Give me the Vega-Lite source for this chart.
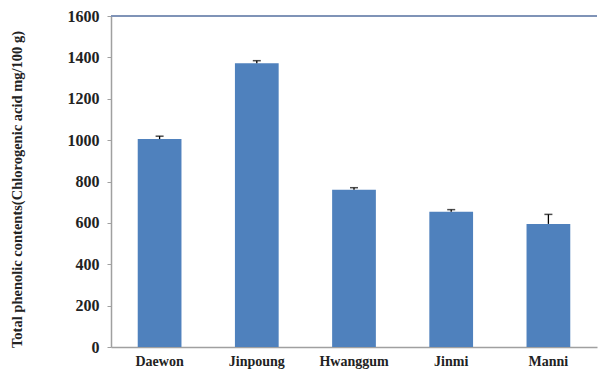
{
  "$schema": "https://vega.github.io/schema/vega-lite/v6.json",
  "autosize": "none",
  "width": 486,
  "height": 331,
  "padding": {"left": 111, "top": 16, "right": 1, "bottom": 28},
  "background": "white",
  "config": {"view": {"stroke": null}},
  "data": {"values": [
    {"cultivar": "Daewon", "value": 1005, "hi": 1019},
    {"cultivar": "Jinpoung", "value": 1371, "hi": 1384},
    {"cultivar": "Hwanggum", "value": 760, "hi": 770},
    {"cultivar": "Jinmi", "value": 654, "hi": 664},
    {"cultivar": "Manni", "value": 595, "hi": 641}
  ]},
  "layer": [
    {
      "mark": {"type": "bar", "color": "#4f81bd"},
      "encoding": {
        "x": {
          "field": "cultivar", "type": "nominal", "sort": null,
          "scale": {"paddingInner": 0.55, "paddingOuter": 0.275},
          "axis": {
            "title": null, "labelAngle": 0, "ticks": false,
            "domainColor": "#a0a0a0", "domainWidth": 1.5,
            "labelFont": "Liberation Serif, Times New Roman, serif", "labelFontWeight": "bold",
            "labelFontSize": 14, "labelColor": "#222222", "labelPadding": 7
          }
        },
        "y": {
          "field": "value", "type": "quantitative",
          "scale": {"domain": [0, 1600], "nice": false},
          "axis": {
            "title": "Total phenolic contents(Chlorogenic acid mg/100 g)",
            "titleFont": "Liberation Serif, Times New Roman, serif", "titleFontWeight": "bold",
            "titleFontSize": 14.5, "titleColor": "#222222",
            "titleX": -94, "titleY": 173, "titleAngle": -90, "titleAlign": "center", "titleBaseline": "middle",
            "values": [0, 200, 400, 600, 800, 1000, 1200, 1400, 1600],
            "format": "d",
            "grid": false, "tickSize": 4, "tickColor": "#a0a0a0", "domainColor": "#a0a0a0", "domainWidth": 1.5,
            "labelFont": "Liberation Serif, Times New Roman, serif", "labelFontWeight": "bold",
            "labelFontSize": 16, "labelColor": "#222222", "labelPadding": 8
          }
        }
      }
    },
    {
      "mark": {"type": "rule", "color": "#000000", "strokeWidth": 1.3},
      "encoding": {
        "x": {"field": "cultivar", "type": "nominal", "sort": null, "bandPosition": 0.5},
        "y": {"field": "value", "type": "quantitative"},
        "y2": {"field": "hi"}
      }
    },
    {
      "mark": {"type": "tick", "color": "#000000", "thickness": 1.5, "size": 8},
      "encoding": {
        "x": {"field": "cultivar", "type": "nominal", "sort": null},
        "y": {"field": "hi", "type": "quantitative"}
      }
    },
    {
      "mark": {"type": "rule", "color": "#7f93b7", "strokeWidth": 1.5},
      "encoding": {"y": {"datum": 1600}}
    }
  ]
}
